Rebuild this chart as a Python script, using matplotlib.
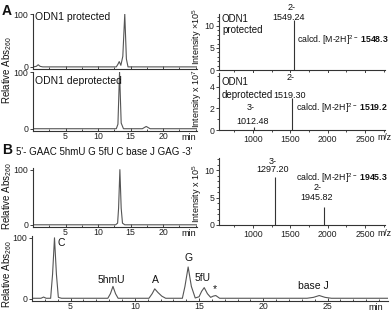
import matplotlib
matplotlib.use("Agg")
import matplotlib.pyplot as plt
from matplotlib.ticker import MultipleLocator

plt.rcParams['font.family'] = ['Liberation Sans', 'DejaVu Sans']
plt.rcParams['mathtext.fontset'] = 'custom'
plt.rcParams['mathtext.rm'] = 'Liberation Sans'
plt.rcParams['mathtext.it'] = 'Liberation Sans:italic'
plt.rcParams['mathtext.bf'] = 'Liberation Sans:bold'

W, H = 392, 313

# ---------------- data ----------------
# HPLC traces (time in min, relative absorbance)
a1_t = [0, 0.5, 0.8, 1.1, 1.5, 12.8, 13.05, 13.25, 13.5, 13.8, 14.1, 14.35, 14.6, 25.2]
a1_y = [0, 1, 4, 1, 0, 0, 5, 10, 3, 20, 100, 15, 0, 0]

a2_t = [0, 12.8, 13.05, 13.3, 13.55, 13.9, 16.8, 17.4, 18.0, 25.2]
a2_y = [0, 0, 8, 100, 10, 0, 0, 4, 0, 0]

b1_t = [0, 12.7, 13.0, 13.15, 13.35, 13.55, 13.75, 14.1, 25.2]
b1_y = [0, 0, 3, 30, 100, 30, 3, 0, 0]

b2_t = [2.0, 2.7, 2.9, 3.1, 3.45, 3.6, 3.75, 3.9, 4.05, 4.3, 7.9, 8.1, 8.3, 8.5, 8.7,
        11.1, 11.35, 11.55, 11.8, 12.1, 12.4, 13.7, 13.9, 14.15, 14.4, 14.7, 15.0,
        15.2, 15.4, 15.65, 15.9, 16.1, 16.3, 16.6, 23.4, 23.9, 24.35, 24.8, 25.3, 29.7]
b2_y = [0.5, 0.5, 2.5, 0.5, 0.5, 40, 100, 40, 2, 0.5, 0.5, 8, 20, 8, 0.5,
        0.5, 8, 16, 10, 4, 0.5, 0.5, 20, 52, 20, 1, 3,
        12, 18, 8, 2, 4, 5, 0.5, 0.5, 2, 5, 2, 0.5, 0.5]

b2_labels = ["C", "5hmU", "A", "G", "5fU", "*", "base J"]
b2_label_t = [4.0, 8.2, 11.6, 14.2, 15.3, 16.25, 23.9]
b2_label_y = [92, 31, 31, 67, 34, 15, 20]

# MS spectra (m/z, intensity)
ms1_mz = [1549.24]
ms1_int = [11.3]
ms2_mz = [1012.48, 1519.30]
ms2_int = [0.25, 3.0]
ms3_mz = [1297.20, 1945.82]
ms3_int = [8.8, 3.3]

# ---------------- figure ----------------
fig = plt.figure(figsize=(W / 100, H / 100), dpi=100)


def frac(x, y):
    return x / W, 1 - y / H


def make_ax(l, t, r, b):
    ax = fig.add_axes([l / W, 1 - b / H, (r - l) / W, (b - t) / H])
    for s in ('top', 'right'):
        ax.spines[s].set_visible(False)
    for s in ('left', 'bottom'):
        ax.spines[s].set_linewidth(0.8)
        ax.spines[s].set_color('#333333')
    ax.tick_params(labelsize=6.3, length=2.5, width=0.6, pad=0.8, colors='#222222')
    ax.tick_params(which='minor', length=1.5, width=0.5)
    return ax


lc = '#555555'
lw = 0.8

# HPLC A1
ax = make_ax(33, 14, 197, 69)
ax.plot(a1_t, a1_y, color=lc, lw=lw)
ax.set_xlim(0, 25.2); ax.set_ylim(-4, 100)
ax.set_yticks([0, 100]); ax.set_xticks([5, 10, 15, 20]); ax.set_xticklabels([])
ax.xaxis.set_minor_locator(MultipleLocator(2.5))
ax.tick_params(axis='x', which='both', direction='in')

# HPLC A2
ax = make_ax(33, 72, 197, 131)
ax.plot(a2_t, a2_y, color=lc, lw=lw)
ax.set_xlim(0, 25.2); ax.set_ylim(-4, 100)
ax.set_yticks([0, 100]); ax.set_xticks([5, 10, 15, 20])
ax.xaxis.set_minor_locator(MultipleLocator(2.5))
ax.tick_params(axis='x', which='both', direction='in')

# HPLC B1
ax = make_ax(33, 168, 197, 227)
ax.plot(b1_t, b1_y, color=lc, lw=lw)
ax.set_xlim(0, 25.2); ax.set_ylim(-4, 103)
ax.set_yticks([0, 100]); ax.set_xticks([5, 10, 15, 20])
ax.xaxis.set_minor_locator(MultipleLocator(2.5))
ax.tick_params(axis='x', which='both', direction='in')

# HPLC B2
ax = make_ax(32, 236, 388, 301)
ax.plot(b2_t, b2_y, color=lc, lw=lw)
ax.set_xlim(2.0, 29.7); ax.set_ylim(-4, 103)
ax.set_yticks([0, 100]); ax.set_xticks([5, 10, 15, 20, 25])
ax.xaxis.set_minor_locator(MultipleLocator(1))
ax.tick_params(axis='x', which='both', direction='in')
for lab, tx, ty in zip(b2_labels, b2_label_t, b2_label_y):
    ha = 'left' if lab == 'C' else 'center'
    ax.text(tx, ty, lab, fontsize=7.5, ha=ha, va='center', color='#111111')

# MS panels
ms_specs = [
    (14, 70, ms1_mz, ms1_int, 12.7, [0, 5, 10], False),
    (73, 130, ms2_mz, ms2_int, 5.3, [0, 2, 4], True),
    (158, 225, ms3_mz, ms3_int, 12.2, [0, 5, 10], True),
]
for top, bot, mz, inten, ymax, yt, showx in ms_specs:
    ax = make_ax(219, top, 385, bot)
    ax.vlines(mz, 0, inten, color='#333333', lw=0.8)
    ax.set_xlim(545, 2768); ax.set_ylim(0, ymax)
    ax.set_yticks(yt)
    ax.yaxis.set_minor_locator(MultipleLocator(1))
    ax.set_xticks([1000, 1500, 2000, 2500])
    ax.xaxis.set_minor_locator(MultipleLocator(250))
    if not showx:
        ax.set_xticklabels([])

# ---------------- texts ----------------
def ftext(x, y, s, **kw):
    kw.setdefault('fontsize', 7)
    kw.setdefault('color', '#111111')
    fx, fy = frac(x, y)
    fig.text(fx, fy, s, **kw)


ftext(2, 11, "A", fontsize=10, fontweight='bold', ha='left', va='center')
ftext(2, 150, "B", fontsize=10, fontweight='bold', ha='left', va='center')
ftext(16, 152, "5'- GAAC 5hmU G 5fU C base J GAG -3'", ha='left', va='center')

ftext(35, 17, "ODN1 protected", fontsize=7.5, ha='left', va='center')
ftext(35, 81, "ODN1 deprotected", fontsize=7.5, ha='left', va='center')

ftext(7, 70, "Relative Abs$_{260}$", fontsize=7, rotation=90, ha='center', va='center')
ftext(7, 196, "Relative Abs$_{260}$", fontsize=7, rotation=90, ha='center', va='center')
ftext(7, 274, "Relative Abs$_{260}$", fontsize=7, rotation=90, ha='center', va='center')

ftext(197, 37, "Intensity \u00d710$^5$", fontsize=6.5, rotation=90, ha='center', va='center')
ftext(197, 99, "Intensity x 10$^7$", fontsize=6.5, rotation=90, ha='center', va='center')
ftext(197, 194, "Intensity x 10$^5$", fontsize=6.5, rotation=90, ha='center', va='center')

ftext(189, 138, "min", fontsize=6.5, ha='center', va='center')
ftext(189, 233, "min", fontsize=6.5, ha='center', va='center')
ftext(376, 308, "min", fontsize=6.5, ha='center', va='center')
ftext(384, 137, "m/z", fontsize=6.3, ha='center', va='center')
ftext(384, 233, "m/z", fontsize=6.3, ha='center', va='center')

# MS annotations
ftext(222, 19, "ODN1", ha='left', va='center')
ftext(222, 30, "protected", ha='left', va='center')
ftext(292, 7, "2-", fontsize=6.5, ha='center', va='center')
ftext(289, 18, "1549.24", fontsize=6.5, ha='center', va='center')
ftext(297, 40, "calcd. [M-2H]$^{2-}$ $\\mathbf{1548.3}$", fontsize=6.3, ha='left', va='center')

ftext(222, 82, "ODN1", ha='left', va='center')
ftext(222, 95, "deprotected", ha='left', va='center')
ftext(291, 78, "2-", fontsize=6.5, ha='center', va='center')
ftext(290, 95, "1519.30", fontsize=6.5, ha='center', va='center')
ftext(251, 108, "3-", fontsize=6.5, ha='center', va='center')
ftext(253, 121, "1012.48", fontsize=6.5, ha='center', va='center')
ftext(296, 108, "calcd. [M-2H]$^{2-}$ $\\mathbf{1519.2}$", fontsize=6.3, ha='left', va='center')

ftext(273, 161, "3-", fontsize=6.5, ha='center', va='center')
ftext(273, 170, "1297.20", fontsize=6.5, ha='center', va='center')
ftext(296, 178, "calcd. [M-2H]$^{2-}$ $\\mathbf{1945.3}$", fontsize=6.3, ha='left', va='center')
ftext(318, 188, "2-", fontsize=6.5, ha='center', va='center')
ftext(317, 198, "1945.82", fontsize=6.5, ha='center', va='center')

fig.savefig("out.png", dpi=100)
